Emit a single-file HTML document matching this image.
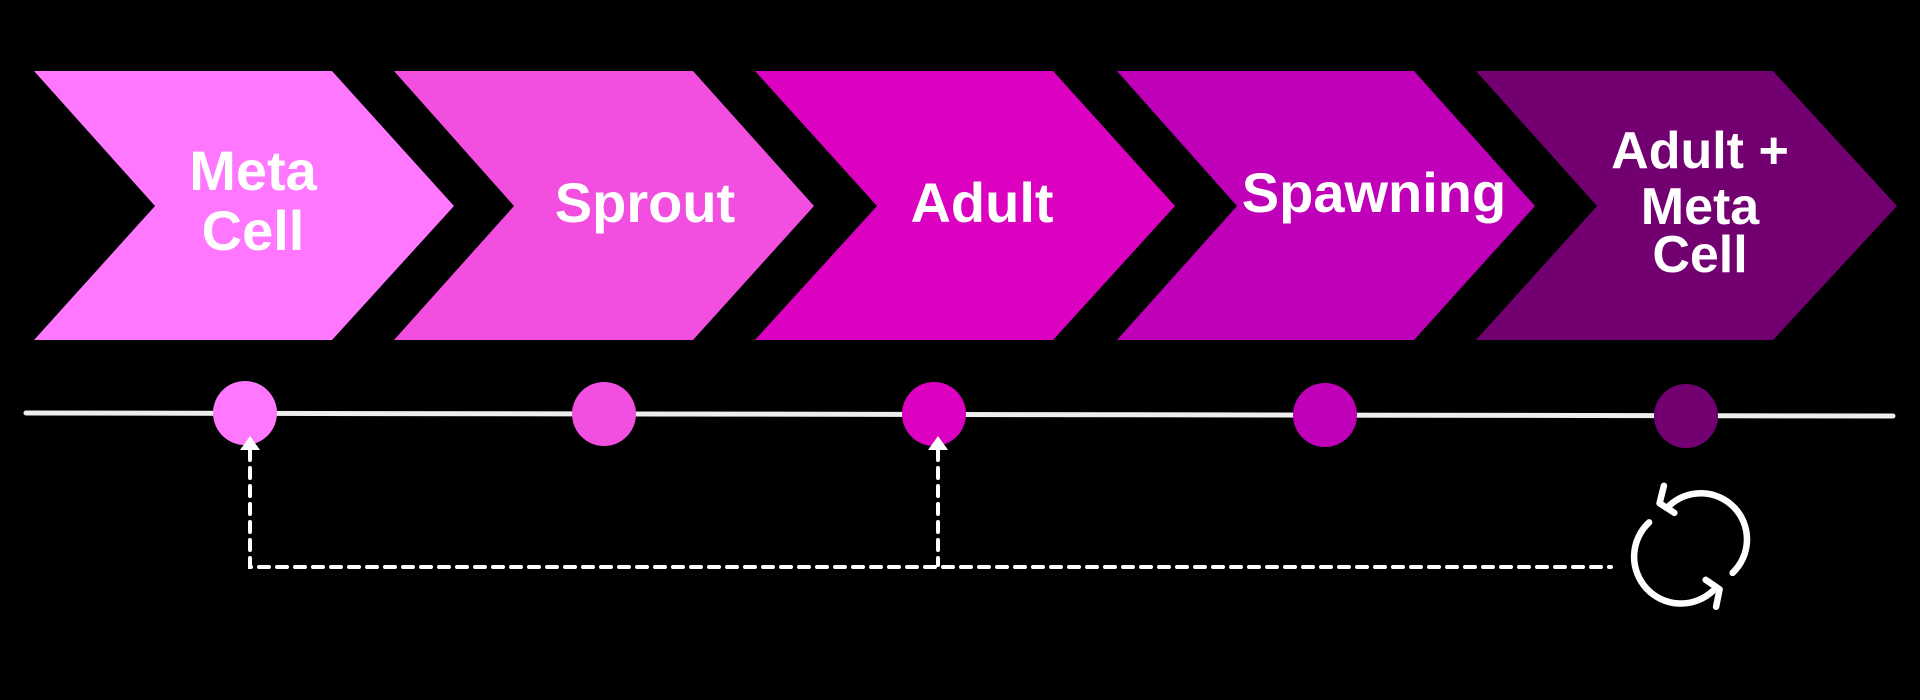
<!DOCTYPE html>
<html><head><style>
html,body{margin:0;padding:0;background:#000;}
svg{display:block}
text{font-family:"Liberation Sans","NanumGothic",sans-serif;font-weight:bold;fill:#fff;text-anchor:middle;}
</style></head><body>
<svg width="1920" height="700" viewBox="0 0 1920 700">
<rect width="1920" height="700" fill="#000"/>
<polygon points="34,71 332,71 454,206 332,340 34,340 155,206" fill="#FF77FF"/>
<polygon points="394,71 693,71 814,206 693,340 394,340 514,206" fill="#F24EE0"/>
<polygon points="755,71 1053,71 1175,206 1053,340 755,340 877,206" fill="#DC00C0"/>
<polygon points="1117,71 1414,71 1535,206 1414,340 1117,340 1237,206" fill="#C000B8"/>
<polygon points="1476,71 1773,71 1897,206 1773,340 1476,340 1597,206" fill="#720070"/>
<g font-size="56">
<text x="253" y="190">Meta</text>
<text x="253" y="250">Cell</text>
<text x="645" y="222">Sprout</text>
<text x="982" y="222">Adult</text>
<text x="1374" y="212">Spawning</text>
<text x="1700" y="168" font-size="52">Adult +</text>
<text x="1700" y="224" font-size="52">Meta</text>
<text x="1700" y="272" font-size="52">Cell</text>
</g>
<line x1="26" y1="413" x2="1893" y2="416" stroke="#eee" stroke-width="5" stroke-linecap="round"/>
<circle cx="245" cy="413" r="32" fill="#FF77FF"/>
<circle cx="604" cy="414" r="32" fill="#F24EE0"/>
<circle cx="934" cy="414" r="32" fill="#DC00C0"/>
<circle cx="1325" cy="415" r="32" fill="#C000B8"/>
<circle cx="1686" cy="416" r="32" fill="#720070"/>
<g stroke="#fff" stroke-width="4" stroke-dasharray="10,8" fill="none" stroke-linecap="round">
<path d="M250,450 L250,567 L1611,567"/>
<path d="M938,450 L938,565"/>
</g>
<polygon points="250,436 240,450 260,450" fill="#fff"/>
<polygon points="938,436 928,450 948,450" fill="#fff"/>
<g transform="translate(1690,545) scale(0.87) translate(-1690,-545)" stroke="#fff" stroke-width="7.5" fill="none" stroke-linecap="round" stroke-linejoin="round">
<path d="M1666,500 A52,52 0 0 1 1739,577"/>
<path d="M1716,598 A52,52 0 0 1 1643,519"/>
<path d="M1660,477 L1655,497 L1672,508"/>
<path d="M1720,616 L1724,596 L1708,585"/>
</g>
</svg>
</body></html>
